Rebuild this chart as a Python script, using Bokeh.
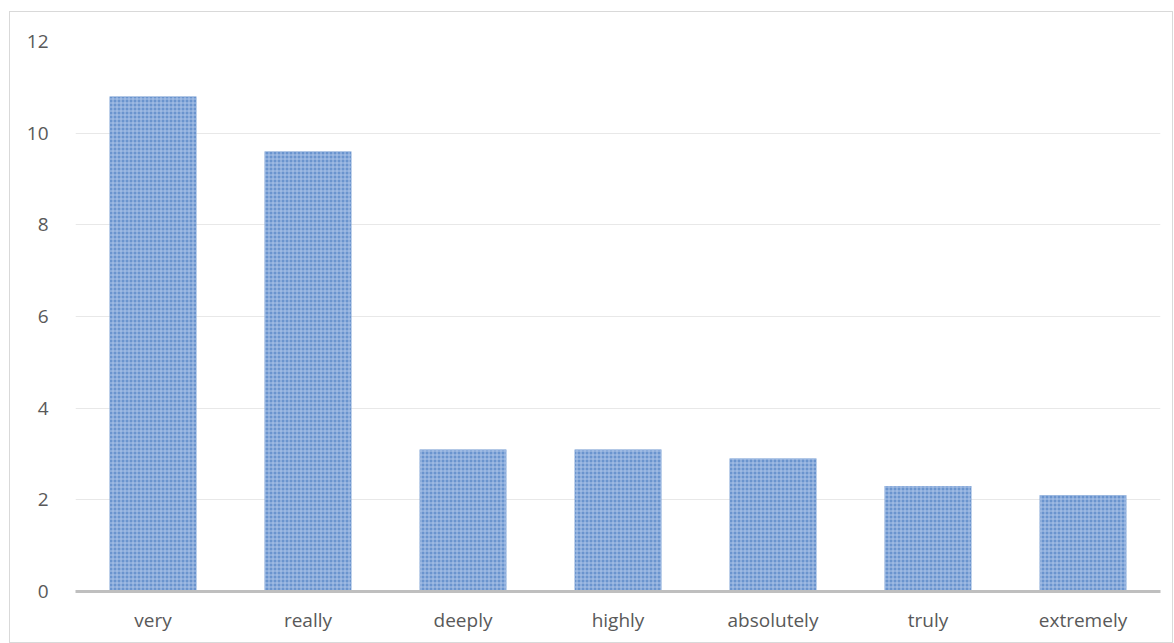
from bokeh.plotting import figure
from bokeh.models import ColumnDataSource, FixedTicker
from bokeh.embed import file_html
from bokeh.resources import INLINE

categories = ["very", "really", "deeply", "highly", "absolutely", "truly", "extremely"]
values = [10.8, 9.6, 3.1, 3.1, 2.9, 2.3, 2.1]
y_ticks = [0, 2, 4, 6, 8, 10, 12]

src = ColumnDataSource(dict(cat=categories, val=values))

p = figure(x_range=categories, y_range=(0, 12), width=1164, height=632,
           output_backend="svg", toolbar_location=None,
           min_border_left=65, min_border_right=14, min_border_top=29, min_border_bottom=53)
p.styles = {"margin-left": "9px", "margin-top": "11px", "border": "1px solid #d9d9d9",
            "box-sizing": "border-box"}
p.outline_line_color = None

p.vbar(x="cat", top="val", width=0.56, source=src,
       fill_color="#6A94CE", line_color=None,
       hatch_pattern="+", hatch_color="#ADC5E8", hatch_scale=4, hatch_weight=1)

p.yaxis.ticker = FixedTicker(ticks=y_ticks)
p.yaxis.axis_line_color = None
p.yaxis.major_tick_line_color = None
p.yaxis.minor_tick_line_color = None
p.yaxis.major_label_standoff = 21
p.yaxis.major_label_text_font = "Open Sans"
p.yaxis.major_label_text_font_size = "19px"
p.yaxis.major_label_text_color = "#595959"

p.xaxis.axis_line_color = "#bfbfbf"
p.xaxis.axis_line_width = 3
p.xaxis.major_tick_line_color = None
p.xaxis.minor_tick_line_color = None
p.xaxis.major_label_standoff = 9
p.xaxis.major_label_text_font = "Open Sans"
p.xaxis.major_label_text_font_size = "19px"
p.xaxis.major_label_text_color = "#595959"

p.xgrid.grid_line_color = None
p.ygrid.grid_line_color = "#e8e8e8"
p.ygrid.grid_line_width = 1

open("out.html", "w").write(file_html(p, INLINE))
